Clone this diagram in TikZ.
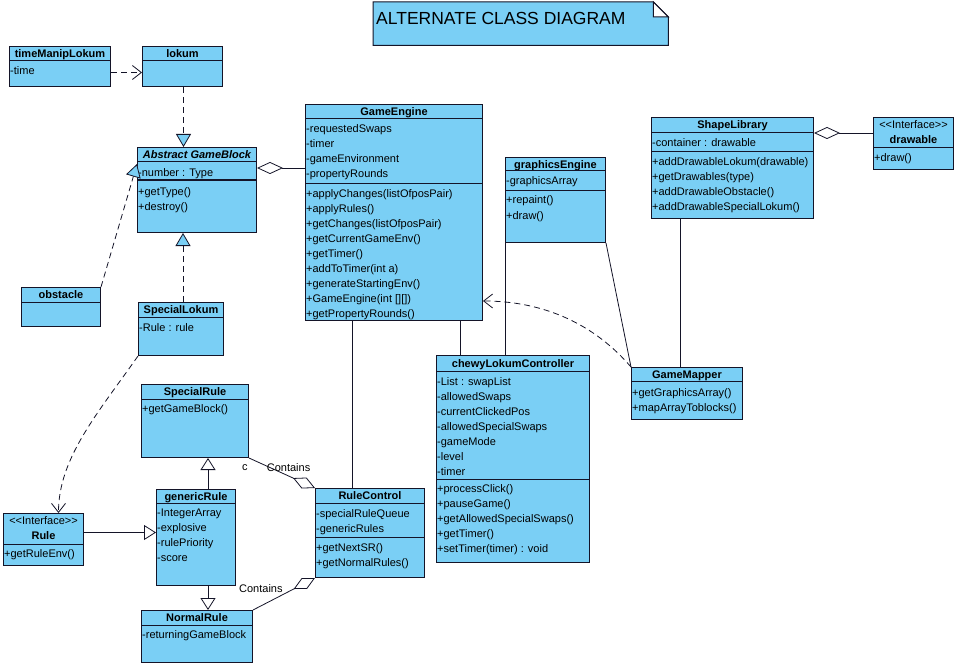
\documentclass[tikz,border=0pt]{standalone}
\usepackage{fontspec}
\setmainfont{Liberation Sans}
\usepackage{xcolor}
\usetikzlibrary{
    arrows.meta,
    positioning,
    calc
}
\definecolor{umlblue}{RGB}{122,207,245}
\definecolor{umlline}{RGB}{20,20,40}

% class box helpers
\newcommand{\umlbox}[5]{\node[classbox, minimum width=#4, minimum height=#5] (#1) at (#2,#3) {};}
\newcommand{\umltitle}[3]{\node[classname] (#1-t) at ([yshift=-#2]#1.north) {#3};}
\newcommand{\umlsep}[2]{\draw[classline] ([yshift=-#2]#1.north west) -- ([yshift=-#2]#1.north east);}
\newcommand{\umlmembers}[4]{\foreach \m [count=\k from 0] in {#4}
    \node[member] (#1-#2\k) at ([xshift=1, yshift=-#3-15*\k]#1.north west) {\m};}

\begin{document}
\begin{tikzpicture}[
    x=1pt, y=-1pt,
    classbox/.style={
        draw=umlline,
        fill=umlblue,
        line width=1pt,
        anchor=north west,
        inner sep=0pt
    },
    classname/.style={
        font=\bfseries\fontsize{11}{13}\selectfont,
        anchor=base,
        inner sep=0pt
    },
    stereo/.style={
        font=\fontsize{11}{13}\selectfont,
        anchor=base,
        inner sep=0pt
    },
    member/.style={
        font=\fontsize{11}{13}\selectfont,
        anchor=base west,
        inner sep=0pt
    },
    lbl/.style={
        font=\fontsize{11}{13}\selectfont,
        inner sep=1pt
    },
    classline/.style={draw=umlline, line width=1pt},
    link/.style={draw=umlline, line width=0.8pt},
    dep/.style={
        link,
        dash pattern=on 6pt off 4pt,
        -{Straight Barb[length=9pt,width=14pt]}
    },
    realize/.style={
        link,
        dash pattern=on 6pt off 4pt,
        -{Triangle[length=13pt,width=15pt,fill=umlblue]}
    },
    gener/.style={
        link,
        -{Triangle[length=12pt,width=15pt,fill=white]}
    },
    aggr/.style={
        link,
        {Diamond[length=26pt,width=12pt,fill=white]}-
    },
    aggrend/.style={
        link,
        -{Diamond[length=24pt,width=12pt,fill=white]}
    }
]
\useasboundingbox (0,0) rectangle (956,666);

% title note
\node[inner sep=0pt, minimum width=295, minimum height=43, anchor=north west] (note) at (373,2) {};
\filldraw[classline, fill=umlblue] (note.north west) -- ([xshift=-15]note.north east)
    -- ([yshift=-15]note.north east) -- (note.south east) -- (note.south west) -- cycle;
\filldraw[classline, fill=white] ([xshift=-15]note.north east) -- ([xshift=-15,yshift=-15]note.north east)
    -- ([yshift=-15]note.north east) -- cycle;
\node[anchor=base west, inner sep=0pt, font=\fontsize{17.5}{20}\selectfont] (notelabel)
    at ([xshift=3, yshift=-23]note.north west) {ALTERNATE CLASS DIAGRAM};

% classes
\umlbox{tml}{9}{46}{101}{40}
\umltitle{tml}{11.5}{timeManipLokum}
\umlsep{tml}{15}
\umlmembers{tml}{a}{29}{-time}

\umlbox{lokum}{142}{46}{80}{40}
\umltitle{lokum}{11.5}{lokum}
\umlsep{lokum}{15}

\umlbox{agb}{137}{147}{119}{85}
\umltitle{agb}{11.5}{\itshape Abstract GameBlock}
\umlsep{agb}{15}
\umlsep{agb}{33}
\umlmembers{agb}{a}{29}{-number : Type}
\umlmembers{agb}{o}{48}{+getType(), +destroy()}

\umlbox{ge}{305}{104}{177}{216}
\umltitle{ge}{11.5}{GameEngine}
\umlsep{ge}{15}
\umlsep{ge}{79}
\umlmembers{ge}{a}{29}{-requestedSwaps, -timer, -gameEnvironment, -propertyRounds}
\umlmembers{ge}{o}{93}{+applyChanges(listOfposPair), +applyRules(), +getChanges(listOfposPair),
    +getCurrentGameEnv(), +getTimer(), +addToTimer(int a), +generateStartingEnv(),
    {+GameEngine(int [][])}, +getPropertyRounds()}

\umlbox{gfx}{505}{157}{100}{85}
\umltitle{gfx}{11}{graphicsEngine}
\umlsep{gfx}{14}
\umlsep{gfx}{33}
\umlmembers{gfx}{a}{28}{-graphicsArray}
\umlmembers{gfx}{o}{47}{+repaint(), +draw()}

\umlbox{shl}{651}{117}{162}{101}
\umltitle{shl}{12}{ShapeLibrary}
\umlsep{shl}{16}
\umlsep{shl}{35}
\umlmembers{shl}{a}{30}{-container : drawable}
\umlmembers{shl}{o}{49}{+addDrawableLokum(drawable), +getDrawables(type), +addDrawableObstacle(),
    +addDrawableSpecialLokum()}

\umlbox{drw}{873}{117}{80}{52}
\node[stereo] (drw-s) at ([yshift=-12]drw.north) {<{}<Interface>{}>};
\umltitle{drw}{27}{drawable}
\umlsep{drw}{31}
\umlmembers{drw}{o}{44}{+draw()}

\umlbox{obs}{21}{287}{79}{39}
\umltitle{obs}{11.5}{obstacle}
\umlsep{obs}{15}

\umlbox{slk}{138}{302}{85}{53}
\umltitle{slk}{11.5}{SpecialLokum}
\umlsep{slk}{15}
\umlmembers{slk}{a}{29}{-Rule : rule}

\umlbox{srl}{141}{384}{107}{73}
\umltitle{srl}{11.5}{SpecialRule}
\umlsep{srl}{15}
\umlmembers{srl}{o}{28}{+getGameBlock()}

\umlbox{rule}{3}{513}{80}{52}
\node[stereo] (rule-s) at ([yshift=-11]rule.north) {<{}<Interface>{}>};
\umltitle{rule}{26}{Rule}
\umlsep{rule}{31}
\umlmembers{rule}{o}{44}{+getRuleEnv()}

\umlbox{gen}{156}{489}{79}{96}
\umltitle{gen}{11}{genericRule}
\umlsep{gen}{14}
\umlmembers{gen}{a}{27}{-IntegerArray, -explosive, -rulePriority, -score}

\umlbox{nrl}{141}{610}{111}{52}
\umltitle{nrl}{11.5}{NormalRule}
\umlsep{nrl}{15}
\umlmembers{nrl}{a}{28}{-returningGameBlock}

\umlbox{rc}{315}{488}{109}{89}
\umltitle{rc}{11.5}{RuleControl}
\umlsep{rc}{15}
\umlsep{rc}{49}
\umlmembers{rc}{a}{29}{-specialRuleQueue, -genericRules}
\umlmembers{rc}{o}{63}{+getNextSR(), +getNormalRules()}

\umlbox{clc}{436}{355}{153}{207}
\umltitle{clc}{12}{chewyLokumController}
\umlsep{clc}{16}
\umlsep{clc}{124}
\umlmembers{clc}{a}{30}{-List : swapList, -allowedSwaps, -currentClickedPos, -allowedSpecialSwaps,
    -gameMode, -level, -timer}
\umlmembers{clc}{o}{137}{+processClick(), +pauseGame(), +getAllowedSpecialSwaps(), +getTimer(),
    +setTimer(timer) : void}

\umlbox{gm}{631}{367}{111}{52}
\umltitle{gm}{11}{GameMapper}
\umlsep{gm}{14}
\umlmembers{gm}{o}{29}{+getGraphicsArray(), +mapArrayToblocks()}

% dependencies and realizations
\draw[dep] ([yshift=-6]tml.east) -- ([yshift=-6]tml.east -| lokum.west);
\draw[realize] ([xshift=1]lokum.south) -- ([xshift=1]lokum.south |- agb.north);
\draw[realize] ([xshift=2]slk.north) -- ([xshift=2]slk.north |- agb.south);
\draw[realize] (obs.north east) -- ([yshift=-17]agb.north west);
\draw[dep] (slk.south west) .. controls +(-40,57) and +(0,-55) .. ([xshift=15]rule.north);
\draw[dep] (gm.north west) .. controls +(-36,-42) and +(62,0) .. ([yshift=20]ge.south east);

% aggregations
\draw[aggr] ([yshift=-21]agb.north east) -- ([yshift=-21]agb.north east -| ge.west);
\draw[aggr] ([yshift=-16]shl.north east) -- ([yshift=-16]shl.north east -| drw.west);
\draw[aggrend] (srl.south east) -- node[lbl, pos=0.6, above, yshift=3] (cont1) {Contains}
    node[lbl, at start, anchor=north east, yshift=-5] (cmult) {c} (rc.north west);
\draw[aggrend] (nrl.north east) -- node[lbl, pos=0.5, anchor=south east] (cont2) {Contains} (rc.south west);

% generalizations
\draw[gener] ([yshift=7]rule.east) -- ([yshift=7]rule.east -| gen.west);
\draw[gener] ([xshift=12]gen.north) -- ([xshift=12]gen.north |- srl.south);
\draw[gener] ([xshift=12]gen.south) -- ([xshift=12]gen.south |- nrl.north);

% plain associations
\draw[link] ([xshift=-17.5]rc.north) -- ([xshift=-17.5]rc.north |- ge.south);
\draw[link] ([xshift=-52.5]clc.north) -- ([xshift=-52.5]clc.north |- ge.south);
\draw[link] ([xshift=-50]gfx.south) -- ([xshift=-50]gfx.south |- clc.north);
\draw[link] (gfx.south east) -- (gm.north west);
\draw[link] ([xshift=-52]shl.south) -- ([xshift=-52]shl.south |- gm.north);

\end{tikzpicture}
\end{document}
